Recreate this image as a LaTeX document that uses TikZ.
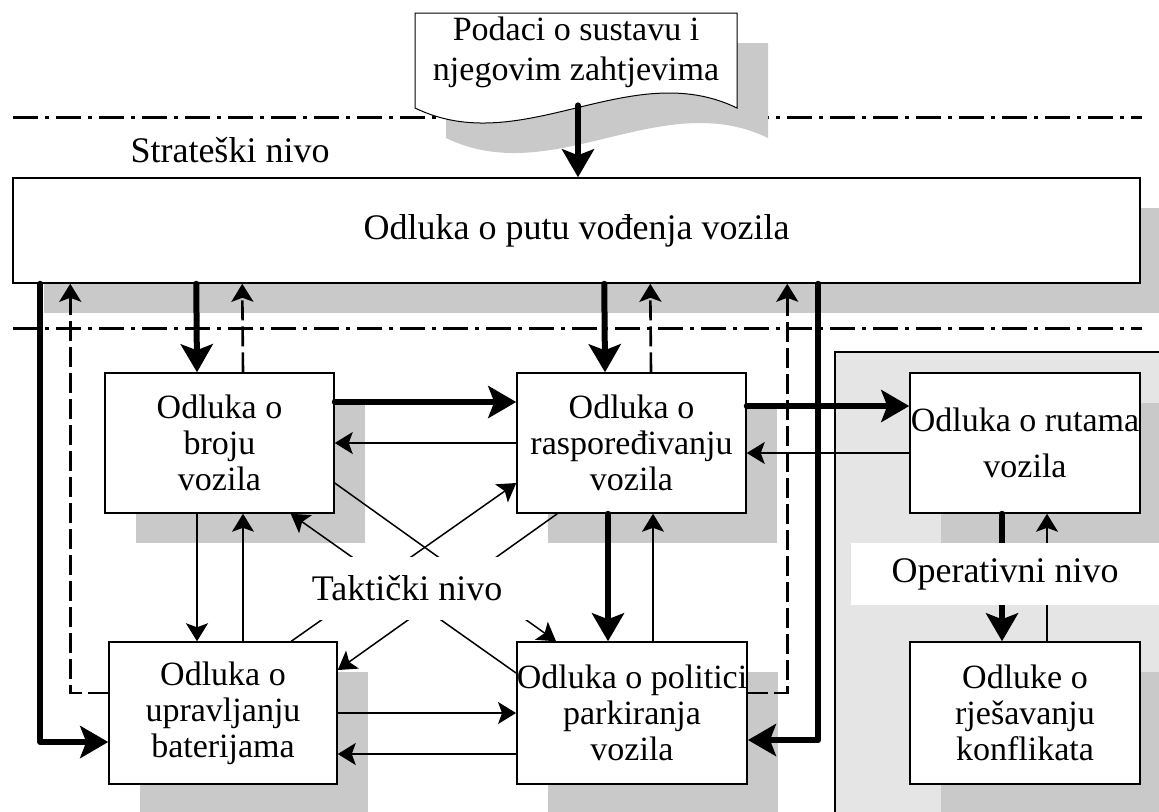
\documentclass[tikz,border=0pt]{standalone}
\usepackage{fontspec}
\setmainfont{Liberation Serif}
\usetikzlibrary{arrows.meta,shadows,calc}

\definecolor{shadowgray}{gray}{0.79}
\definecolor{oparea}{gray}{0.9}

\tikzset{
  box/.style={draw, line width=0.75pt, fill=white, align=center, inner sep=0pt,
    drop shadow={shadow xshift=15.5pt, shadow yshift=-15pt, fill=shadowgray, opacity=1}},
  thk/.style={line width=3pt, line cap=round, line join=round,
    -{Stealth[length=14pt,width=16pt,inset=3pt]}},
  thn/.style={line width=0.75pt, -{Stealth[length=9pt,width=11pt,inset=2pt]}},
  dsh/.style={line width=1.3pt, dash pattern=on 10pt off 3pt,
    -{Stealth[length=9pt,width=11pt,inset=2pt]}},
  lvline/.style={line width=1.5pt, dash pattern=on 12.5pt off 3.5pt on 2pt off 3.5pt},
  lvl/.style={fill=white, inner sep=0pt, font=\fontsize{18}{19}\selectfont},
}

\begin{document}
\begin{tikzpicture}[x=0.5pt, y=-0.5pt, font=\fontsize{17}{18}\selectfont]
    \clip (0,0) rectangle (1159,811);

    % Level borders
    \foreach \y in {117,328}
        \draw[lvline] (13,\y) -- (1142,\y);

    % Input document (wavy bottom)
    \fill[shadowgray] (446,43) -- (768,43) -- (768,138) .. controls (661,86) and (553,190) .. (446,138) -- cycle;
    \draw[fill=white, line width=0.5pt] (415,13) -- (737,13) -- (737,108) .. controls (630,56) and (522,160) .. (415,108) -- cycle;
    \node[minimum width=161pt, minimum height=52.5pt, align=center] (doc) at (576,52.5)
        {Podaci o sustavu i\\[2pt] njegovim zahtjevima};

    % Operative area
    \draw[fill=oparea, line width=0.6pt] (835,352) rectangle (1170,820);

    % Decisions
    \node[box, minimum width=563.5pt, minimum height=52.5pt, font=\fontsize{18}{19}\selectfont] (main) at (576.5,230.5) {Odluka o putu vođenja vozila};
    \node[box, minimum width=114.5pt, minimum height=70pt] (broju) at (219.5,443) {Odluka o\\ broju\\ vozila};
    \node[box, minimum width=114.5pt, minimum height=70pt] (raspo) at (631.5,443) {Odluka o\\ raspoređivanju\\ vozila};
    \node[box, minimum width=115pt, minimum height=70pt] (rute) at (1025,443) {Odluka o rutama\\[5pt] vozila};
    \node[box, minimum width=114pt, minimum height=71pt] (baterije) at (223,713) {Odluka o\\ upravljanju\\ baterijama};
    \node[box, minimum width=115pt, minimum height=71pt] (parking) at (632,713) {Odluka o politici\\ parkiranja\\ vozila};
    \node[box, minimum width=115pt, minimum height=71pt] (konflikti) at (1025,713) {Odluke o\\ rješavanju\\ konflikata};

    % Strategic links
    \draw[thk] ($(doc.south)+(2,0)$) -- ($(main.north)+(1.5,0)$);
    \draw[thk] ($(main.south west)+(28,0)$) |- ($(baterije.west)+(0,29)$);
    \draw[dsh] ($(baterije.west)+(0,-20)$) -| ($(main.south west)+(58,0)$);
    \draw[thk] ($(main.south west)+(184,0)$) -- ($(broju.north)+(-22.5,0)$);
    \draw[dsh] ($(broju.north)+(23.5,0)$) -- ($(main.south west)+(230,0)$);
    \draw[thk] ($(main.south west)+(592,0)$) -- ($(raspo.north)+(-26.5,0)$);
    \draw[dsh] ($(raspo.north)+(19.5,0)$) -- ($(main.south west)+(638,0)$);
    \draw[dsh] ($(parking.east)+(0,-20)$) -| ($(main.south west)+(775,0)$);
    \draw[thk] ($(main.south west)+(806,0)$) |- ($(parking.east)+(0,27)$);

    % Tactical links
    \draw[thk] ($(broju.east)+(0,-41)$) -- ($(raspo.west)+(0,-41)$);
    \draw[thn] (raspo.west) -- (broju.east);
    \draw[thk] ($(raspo.east)+(0,-37)$) -- ($(rute.west)+(0,-37)$);
    \draw[thn] ($(rute.west)+(0,10)$) -- ($(raspo.east)+(0,10)$);
    \draw[thn] (baterije.east) -- (parking.west);
    \draw[thn] ($(parking.west)+(0,41)$) -- ($(baterije.east)+(0,41)$);
    \draw[thn] ($(broju.south)+(-22.5,0)$) -- ($(baterije.north)+(-26,0)$);
    \draw[thn] ($(baterije.north)+(20,0)$) -- ($(broju.south)+(23.5,0)$);
    \draw[thk] ($(raspo.south)+(-23.5,0)$) -- ($(parking.north)+(-24,0)$);
    \draw[thn] ($(parking.north)+(21,0)$) -- ($(raspo.south)+(21.5,0)$);
    \draw[thn] ($(broju.east)+(0,40)$) -- ($(parking.north west)+(40,0)$); % cross
    \draw[thn] ($(baterije.north west)+(183,0)$) -- ($(raspo.west)+(0,40)$); % cross
    \draw[thn] ($(raspo.south west)+(41,0)$) -- ($(baterije.east)+(0,-43)$); % cross
    \draw[thn] ($(parking.west)+(0,-40)$) -- ($(broju.south east)+(-44,0)$); % cross

    % Operative links
    \draw[thk] ($(rute.south)+(-23,0)$) -- ($(konflikti.north)+(-23,0)$);
    \draw[thn] ($(konflikti.north)+(22,0)$) -- ($(rute.south)+(22,0)$);

    % Level labels
    \node[lvl, fill=none] (strat) at (230,150) {Strateški nivo};
    \node[lvl, minimum width=125pt, minimum height=31.5pt] (takt) at (407,588) {Taktički nivo};
    \node[lvl, minimum width=154pt, minimum height=31pt] (oper) at (1005,574) {Operativni nivo};
\end{tikzpicture}
\end{document}
